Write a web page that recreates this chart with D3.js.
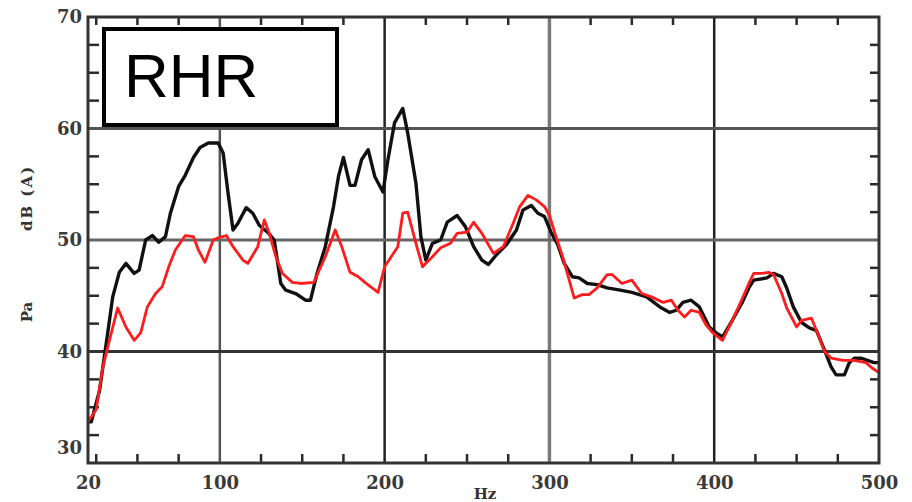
<!DOCTYPE html>
<html>
<head>
<meta charset="utf-8">
<script src="https://cdn.jsdelivr.net/npm/d3@7"></script>
<style>
  html, body { margin: 0; padding: 0; background: #fff; }
  svg { display: block; }
  .lbl text { font-family: "DejaVu Serif", serif; font-weight: bold; font-size: 18px; fill: #3a3a3a; }
</style>
</head>
<body>
<svg id="chart" width="912" height="502"></svg>
<script>
// RHR sound-level spectrum, Pa dB(A) vs Hz, two runs (black + red).
const X_TICKS = [20, 100, 200, 300, 400, 500];
const Y_TICKS = [30, 40, 50, 60, 70];
const X_GRID = [100, 200, 300, 400];
const Y_GRID = [40, 50, 60];
const X_MINOR = [25, 50, 75, 125, 150, 175, 225, 250, 275, 325, 350, 375, 425, 450, 475];
const Y_MINOR = [32.5, 35, 37.5, 42.5, 45, 47.5, 52.5, 55, 57.5, 62.5, 65, 67.5];
const TITLE = "RHR";

// [Hz, dB]
const BLACK = [
  [20,33.7],[22,33.7],[27,36.5],[32,41.7],[35,44.9],[39,47.1],[43,47.9],[48,47.0],
  [51,47.3],[55,50.0],[59,50.4],[63,49.8],[67,50.3],[70,52.4],[75,54.8],[79,55.8],
  [84,57.4],[88,58.3],[93,58.7],[99,58.7],[102,57.8],[105,54.2],[108,50.9],[111,51.5],
  [116,52.9],[120,52.4],[124,51.3],[129,50.7],[133,50.0],[137,46.1],[140,45.5],[146,45.2],
  [152,44.6],[155,44.6],[159,47.0],[164,49.4],[169,53.0],[172,55.7],[175,57.4],[179,54.9],
  [182,54.9],[186,57.2],[190,58.1],[194,55.7],[199,54.3],[202,57.2],[206,60.5],[211,61.8],
  [214,59.6],[219,55.1],[222,50.3],[225,48.2],[229,49.7],[234,50.0],[238,51.6],[244,52.2],
  [249,51.2],[254,49.4],[259,48.2],[263,47.8],[268,48.7],[274,49.6],[280,50.9],[284,52.7],
  [289,53.1],[293,52.4],[297,52.1],[301,50.7],[305,49.6],[309,47.9],[314,46.7],[318,46.6],
  [323,46.1],[329,46.0],[335,45.7],[343,45.5],[350,45.3],[359,44.9],[367,44.0],[373,43.5],
  [377,43.7],[381,44.4],[386,44.6],[391,44.0],[397,42.2],[401,41.7],[405,41.3],[411,42.8],
  [417,44.4],[421,45.7],[424,46.4],[432,46.6],[436,47.0],[441,46.7],[444,45.7],[448,44.0],
  [453,42.6],[458,42.1],[462,41.9],[467,40.1],[471,38.6],[474,37.9],[479,37.9],[482,39.0],
  [485,39.4],[489,39.4],[493,39.2],[497,39.0],[500,39.0]
];
const RED = [
  [20,33.7],[25,34.8],[29,38.6],[33,41.0],[38,43.9],[43,42.2],[48,41.0],[52,41.7],
  [56,44.0],[61,45.2],[65,45.8],[69,47.6],[73,49.1],[79,50.4],[84,50.3],[87,49.1],
  [91,48.0],[96,50.0],[99,50.2],[104,50.4],[108,49.4],[114,48.2],[117,47.9],[123,49.4],
  [127,51.8],[130,50.6],[134,48.5],[138,47.0],[144,46.2],[149,46.1],[157,46.2],[164,48.5],
  [170,50.9],[174,49.4],[179,47.1],[184,46.7],[188,46.2],[196,45.3],[200,47.6],[208,49.4],
  [211,52.4],[214,52.5],[219,49.7],[223,47.6],[229,48.5],[234,49.3],[240,49.7],[244,50.6],
  [250,50.7],[254,51.6],[259,50.6],[266,48.8],[272,49.4],[278,51.5],[282,53.0],[287,54.0],
  [292,53.6],[297,53.0],[300,52.2],[304,50.3],[308,48.5],[312,46.4],[315,44.8],[320,45.1],
  [324,45.1],[329,45.7],[335,46.9],[338,46.9],[344,46.1],[350,46.4],[356,45.2],[362,44.9],
  [369,44.4],[374,44.6],[378,43.7],[382,43.1],[386,43.7],[391,43.5],[395,42.4],[399,41.7],
  [405,41.0],[411,42.8],[416,44.4],[421,46.1],[424,47.0],[429,47.0],[433,47.1],[436,46.9],
  [441,45.2],[444,43.9],[450,42.2],[453,42.8],[459,43.0],[462,41.9],[467,40.0],[471,39.4],
  [478,39.2],[485,39.2],[492,39.0],[496,38.5],[500,38.1]
];

(function () {
  const L = 88, R = 879, T = 17, B = 463;
  const x = d3.scaleLinear([20, 500], [L, R]);
  const y = d3.scaleLinear([30, 70], [B, T]);
  const svg = d3.select("#chart");

  // gridlines (colours vary a little in the scan)
  const vCol = {100: "#555", 200: "#222", 300: "#7a7a7a", 400: "#222"};
  const hCol = {40: "#333", 50: "#666", 60: "#555"};
  svg.append("g").selectAll("line").data(X_GRID).join("line")
    .attr("x1", d => x(d)).attr("x2", d => x(d)).attr("y1", T).attr("y2", B)
    .attr("stroke", d => vCol[d]).attr("stroke-width", d => d === 300 ? 3.5 : 2.5);
  svg.append("g").selectAll("line").data(Y_GRID).join("line")
    .attr("x1", L).attr("x2", R).attr("y1", d => y(d)).attr("y2", d => y(d))
    .attr("stroke", d => hCol[d]).attr("stroke-width", 3);

  // minor ticks, pointing inward on all four sides
  const ticks = svg.append("g").attr("stroke", "#2a2a2a").attr("stroke-width", 2.5);
  ticks.selectAll("line.b").data(X_MINOR).join("line").attr("class", "b")
    .attr("x1", d => x(d)).attr("x2", d => x(d)).attr("y1", B).attr("y2", B - 9);
  ticks.selectAll("line.t").data(X_MINOR).join("line").attr("class", "t")
    .attr("x1", d => x(d)).attr("x2", d => x(d)).attr("y1", T).attr("y2", T + 8);
  ticks.selectAll("line.l").data(Y_MINOR).join("line").attr("class", "l")
    .attr("y1", d => y(d)).attr("y2", d => y(d)).attr("x1", L).attr("x2", L + 11);
  ticks.selectAll("line.r").data(Y_MINOR).join("line").attr("class", "r")
    .attr("y1", d => y(d)).attr("y2", d => y(d)).attr("x1", R).attr("x2", R - 9);

  // curves
  const line = d3.line().x(d => x(d[0])).y(d => y(d[1]));
  svg.append("path").datum(BLACK).attr("d", line).attr("fill", "none")
    .attr("stroke", "#111").attr("stroke-width", 3.4).attr("stroke-linejoin", "round");
  svg.append("path").datum(RED).attr("d", line).attr("fill", "none")
    .attr("stroke", "#ff1c1c").attr("stroke-width", 2.8).attr("stroke-linejoin", "round");

  // frame
  svg.append("rect").attr("x", L).attr("y", T).attr("width", R - L).attr("height", B - T)
    .attr("fill", "none").attr("stroke", "#333").attr("stroke-width", 3);

  // tick labels
  const xl = svg.append("g").attr("class", "lbl").attr("transform", `translate(0,${B})`)
    .call(d3.axisBottom(x).tickValues(X_TICKS).tickSize(0).tickPadding(13).tickFormat(d3.format("d")));
  xl.select(".domain").remove();
  const yl = svg.append("g").attr("class", "lbl").attr("transform", `translate(${L},0)`)
    .call(d3.axisLeft(y).tickValues(Y_TICKS).tickSize(0).tickPadding(6).tickFormat(d3.format("d")));
  yl.select(".domain").remove();
  yl.selectAll(".tick").filter(d => d === 30).select("text").attr("y", -15);

  // axis titles
  svg.append("text").attr("x", 485).attr("y", 499).attr("text-anchor", "middle")
    .attr("font-family", "DejaVu Serif, serif").attr("font-weight", "bold")
    .attr("font-size", 15).attr("fill", "#333").text("Hz");
  const yt = svg.append("g").attr("font-family", "DejaVu Serif, serif")
    .attr("font-weight", "bold").attr("font-size", 15).attr("fill", "#333");
  yt.append("text").attr("transform", "translate(32,312) rotate(-90)")
    .attr("text-anchor", "middle").text("Pa");
  yt.append("text").attr("transform", "translate(32,198) rotate(-90)")
    .attr("text-anchor", "middle").attr("letter-spacing", 2).text("dB (A)");

  // title box
  svg.append("rect").attr("x", 104).attr("y", 29).attr("width", 233).attr("height", 96)
    .attr("fill", "#fff").attr("stroke", "#000").attr("stroke-width", 4);
  svg.append("text").attr("x", 124).attr("y", 97)
    .attr("font-family", "Liberation Sans, Arial, sans-serif").attr("font-size", 62)
    .attr("fill", "#000").text(TITLE);
})();
</script>
</body>
</html>
